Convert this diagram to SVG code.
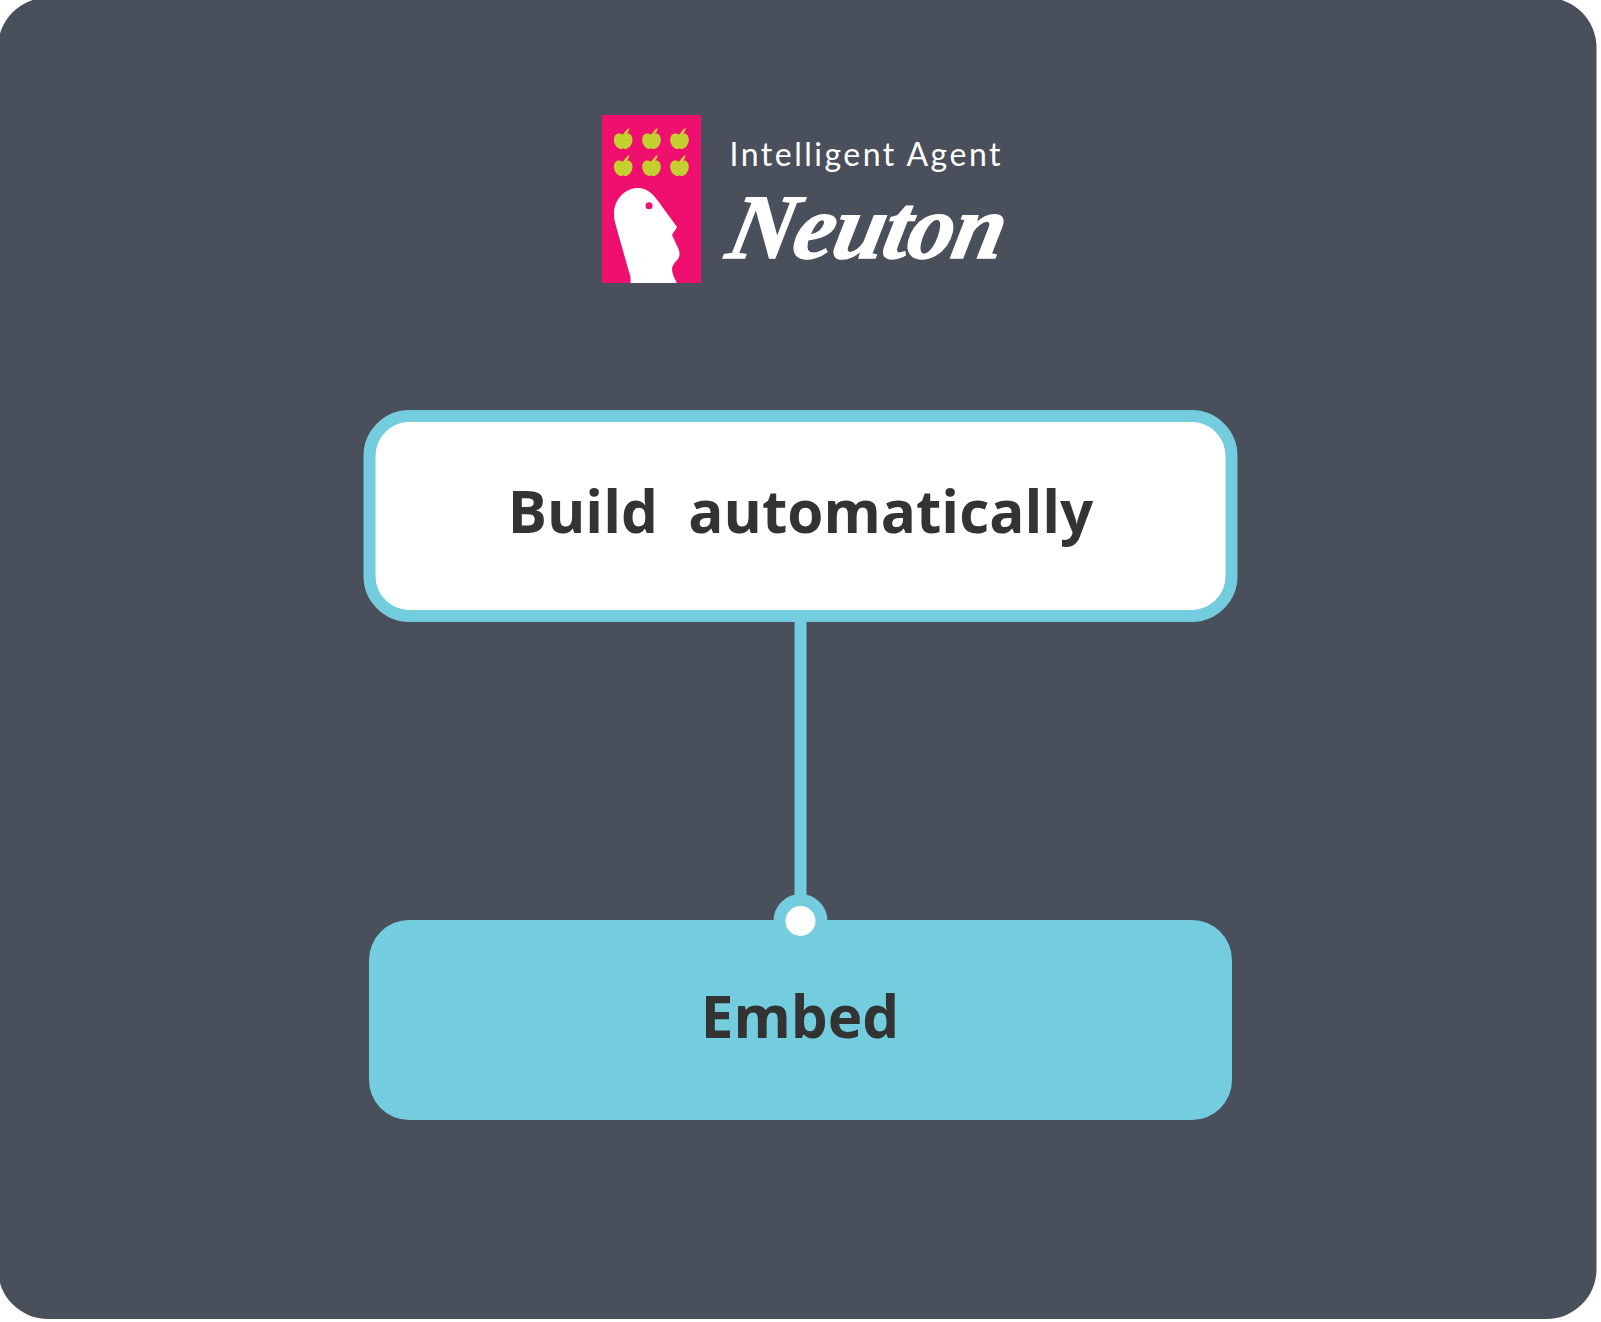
<svg xmlns="http://www.w3.org/2000/svg" width="1601" height="1322" viewBox="0 0 1601 1322">
<style>
.lbl{font-family:"Open Sans","Noto Sans",sans-serif;font-weight:700;font-size:58.400px;fill:#333;text-anchor:middle;white-space:pre}
.teal{fill:#74cddf}
.apple{fill:#c4d02f}
.pink{fill:#ee0f6f}
</style>
<defs>
<g id="apple">
<path class="apple" d="M0-6C3-8.500 9.300-8.500 9.300-1C9.300 4 5 8 2.500 8C1.200 8 .6 7.500 0 7.500C-.6 7.500-1.200 8-2.500 8C-5 8-9.300 4-9.300-1C-9.300-8.500-3-8.500 0-6Z"/>
<path class="apple" d="M-.8-6L3.800-11.500L6.500-13.300L5-9L2-5.500Z"/>
</g>
</defs>
<rect width="1601" height="1322" fill="#fff"/>
<rect id="background" x="-2" y="-2.400" width="1598.500" height="1321.400" rx="50" ry="50" fill="#4a505b"/>
<g id="logo">
<rect class="pink" x="602" y="115" width="99" height="168"/>
<use href="#apple" x="623.200" y="141"/>
<use href="#apple" x="651.500" y="141"/>
<use href="#apple" x="679.500" y="141"/>
<use href="#apple" x="623.200" y="168"/>
<use href="#apple" x="651.500" y="168"/>
<use href="#apple" x="679.500" y="168"/>
<path fill="#fff" d="M630.500 283C631 278 630 274 629 272L616 226C614 220 614 215 614 212C615 198 626 188 638 188C647 188 653 194 658 201L677 227C676 230 673 232 672 235L678 248C680 252 680 256 678 259C674 263 672 266 672 269C672 274 675 279 677 283Z"/>
<circle class="pink" cx="649" cy="205.700" r="3.500"/>
<text x="729.500" y="166" font-family="Lato,'Open Sans',sans-serif" font-weight="400" font-size="32" fill="#fff" textLength="271" lengthAdjust="spacing">Intelligent Agent</text>
<text transform="translate(724 258) skewX(-12)" font-family="'Liberation Serif',serif" font-style="italic" font-weight="700" font-size="92" fill="#fff" stroke="#fff" stroke-width="1.500" textLength="276" lengthAdjust="spacing">Neuton</text>
</g>
<g id="connectors">
<line class="edge" x1="800.500" y1="620" x2="800.500" y2="900" stroke="#74cddf" stroke-width="12"/>
</g>
<g id="node-build">
<rect x="369.500" y="416" width="862" height="200" rx="40" ry="40" fill="#fff" stroke="#74cddf" stroke-width="12"/>
<text class="lbl" x="800.500" y="533.300" xml:space="preserve">Build  automatically</text>
</g>
<g id="node-embed">
<rect class="teal" x="369" y="920" width="863" height="200" rx="40" ry="40"/>
<circle cx="800.500" cy="921" r="21" fill="#fff" stroke="#74cddf" stroke-width="12"/>
<text class="lbl" x="800" y="1037.500">Embed</text>
</g>
</svg>
